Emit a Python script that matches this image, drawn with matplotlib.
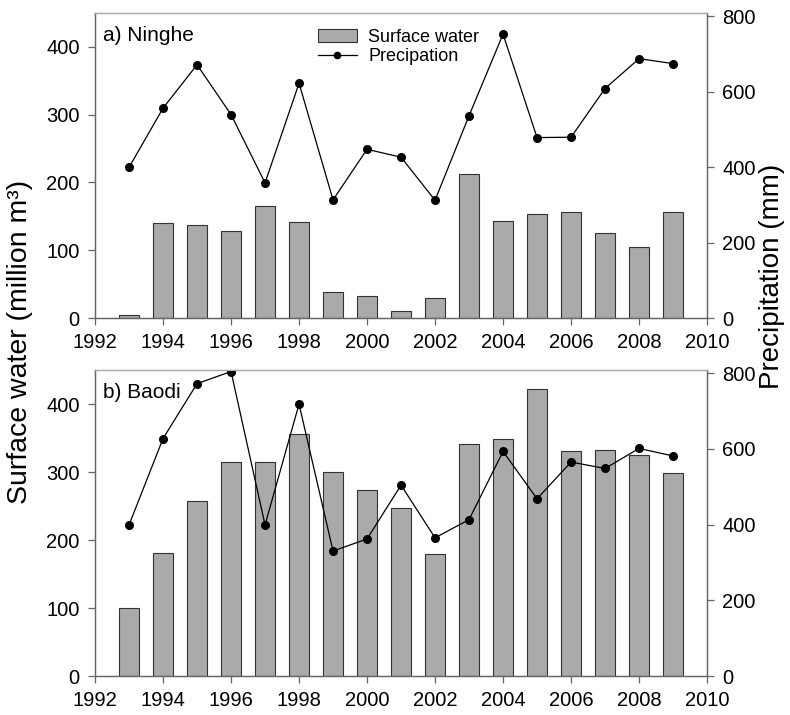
import matplotlib.pyplot as plt
from matplotlib.patches import Patch
from matplotlib.lines import Line2D

plt.rcParams['font.family'] = ['Liberation Sans', 'DejaVu Sans']

years = list(range(1993, 2010))

# a) Ninghe
ninghe_water = [4, 140, 137, 128, 165, 141, 38, 33, 11, 29, 213, 143, 153, 157, 125, 105, 157]
ninghe_precip = [399, 556, 671, 539, 358, 622, 313, 447, 426, 312, 536, 752, 478, 479, 608, 687, 674]

# b) Baodi
baodi_water = [100, 181, 257, 314, 315, 356, 300, 273, 247, 180, 341, 349, 422, 331, 333, 325, 298]
baodi_precip = [399, 627, 772, 804, 399, 718, 330, 362, 504, 365, 413, 593, 468, 565, 548, 601, 581]

panels = [("a) Ninghe", ninghe_water, ninghe_precip),
          ("b) Baodi", baodi_water, baodi_precip)]

bar_color = '#aaaaaa'
edge_color = '#333333'
spine_color = '#666666'
tick_size = 14.5

fig = plt.figure(figsize=(7.9, 7.15), dpi=100)
rects = [[0.1203, 0.5552, 0.7747, 0.4266],
         [0.1203, 0.0545, 0.7747, 0.4280]]

for (label, water, precip), rect in zip(panels, rects):
    ax = fig.add_axes(rect)
    ax.bar(years, water, width=0.6, color=bar_color, edgecolor=edge_color, linewidth=0.8)
    ax.set_xlim(1992, 2010)
    ax.set_ylim(0, 450)
    ax.set_xticks(range(1992, 2011, 2))
    ax.set_yticks([0, 100, 200, 300, 400])

    ax2 = ax.twinx()
    ax2.plot(years, precip, color='black', linewidth=0.9, marker='o', markersize=5.5)
    ax2.set_ylim(0, 808)
    ax2.set_yticks([0, 200, 400, 600, 800])

    for a in (ax, ax2):
        for s in a.spines.values():
            s.set_color(spine_color)
            s.set_linewidth(0.9)
        a.spines['top'].set_color('#aaaaaa')
        a.tick_params(direction='out', length=5, width=0.9, color=spine_color,
                      labelsize=tick_size, pad=6)

    ax.text(0.013, 0.958, label, transform=ax.transAxes, fontsize=15,
            ha='left', va='top')

    if label.startswith('a'):
        handles = [Patch(facecolor=bar_color, edgecolor=edge_color, linewidth=0.8),
                   Line2D([], [], color='black', linewidth=0.9, marker='o', markersize=4.5)]
        ax2.legend(handles, ['Surface water', 'Precipation'], loc='upper left',
                   bbox_to_anchor=(0.343, 0.99), frameon=False, fontsize=13,
                   handlelength=2.2, handletextpad=0.6, labelspacing=0.15,
                   borderaxespad=0.3)

fig.text(0.025, 1 - 342 / 715, 'Surface water (million m³)', rotation=90,
         ha='center', va='center', fontsize=20.5)
fig.text(0.977, 1 - 276 / 715, 'Precipitation (mm)', rotation=90,
         ha='center', va='center', fontsize=20)

fig.savefig('out.png', dpi=100)
